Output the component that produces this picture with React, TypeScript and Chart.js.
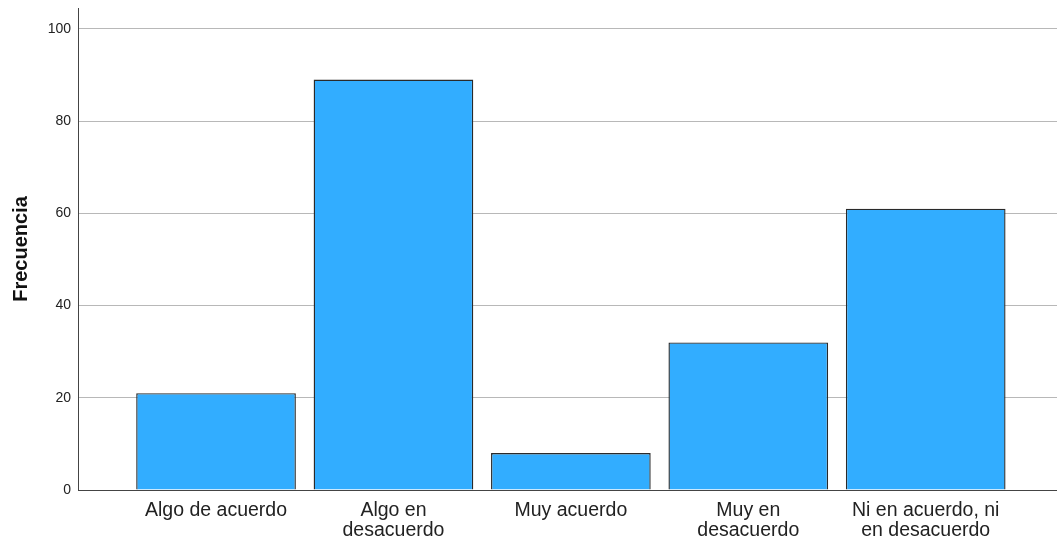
import React, { useEffect, useRef } from "react";
import { Chart, registerables } from "chart.js";

Chart.register(...registerables);

const categories: string[][] = [
  ["Algo de acuerdo"],
  ["Algo en", "desacuerdo"],
  ["Muy acuerdo"],
  ["Muy en", "desacuerdo"],
  ["Ni en acuerdo, ni", "en desacuerdo"],
];
const frequencies: number[] = [21, 89, 8, 32, 61];
const yTicks: number[] = [0, 20, 40, 60, 80, 100];
const yAxisTitle = "Frecuencia";

const FONT = "'Liberation Sans', Arial, sans-serif";

export default function App() {
  const ref = useRef<HTMLCanvasElement | null>(null);
  useEffect(() => {
    if (!ref.current) return;
    const chart = new Chart(ref.current, {
      type: "bar",
      data: {
        datasets: [
          {
            data: frequencies.map((v, i) => ({ x: i, y: v })),
            backgroundColor: "#32adff",
            borderColor: "#2a2a2a",
            borderWidth: 1.4,
            categoryPercentage: 1,
            barPercentage: 0.9,
          },
        ],
      },
      options: {
        animation: false,
        responsive: false,
        maintainAspectRatio: false,
        layout: { padding: { top: 8, left: 0, right: 0, bottom: 0 } },
        plugins: { legend: { display: false }, tooltip: { enabled: false } },
        scales: {
          x: {
            type: "linear",
            offset: false,
            min: -0.778,
            max: 4.74,
            afterBuildTicks: (scale: any) => {
              scale.ticks = categories.map((_, i) => ({ value: i }));
            },
            afterFit: (scale: any) => {
              scale.height = 53;
              scale.paddingLeft = 0;
              scale.paddingRight = 0;
            },
            grid: { display: false, drawTicks: false, offset: false },
            border: { display: true, color: "#444444", width: 1 },
            ticks: {
              autoSkip: false,
              maxRotation: 0,
              padding: 11,
              color: "#222222",
              font: { family: FONT, size: 19.5, lineHeight: 1.0 },
              callback: (v: any) => categories[v as number] ?? "",
            },
          },
          y: {
            min: 0,
            max: 104.5,
            afterBuildTicks: (scale: any) => {
              scale.ticks = yTicks.map((v) => ({ value: v }));
            },
            afterFit: (scale: any) => {
              scale.width = 78;
              scale.paddingTop = 0;
              scale.paddingBottom = 0;
            },
            grid: { color: "#b8b8b8", drawTicks: false, lineWidth: 1 },
            border: { display: true, color: "#444444", width: 1 },
            ticks: {
              padding: 7,
              color: "#222222",
              font: { family: FONT, size: 14 },
            },
            title: {
              display: true,
              text: yAxisTitle,
              color: "#111111",
              font: { family: FONT, size: 20, weight: "bold" },
              padding: { top: 9, bottom: 0 },
            },
          },
        },
      },
    } as any);
    return () => chart.destroy();
  }, []);
  return (
    <div style={{ position: "fixed", left: 0, top: 0, width: 1057, height: 543, background: "#fff" }}>
      <canvas ref={ref} width={1057} height={543} style={{ display: "block" }} />
    </div>
  );
}
